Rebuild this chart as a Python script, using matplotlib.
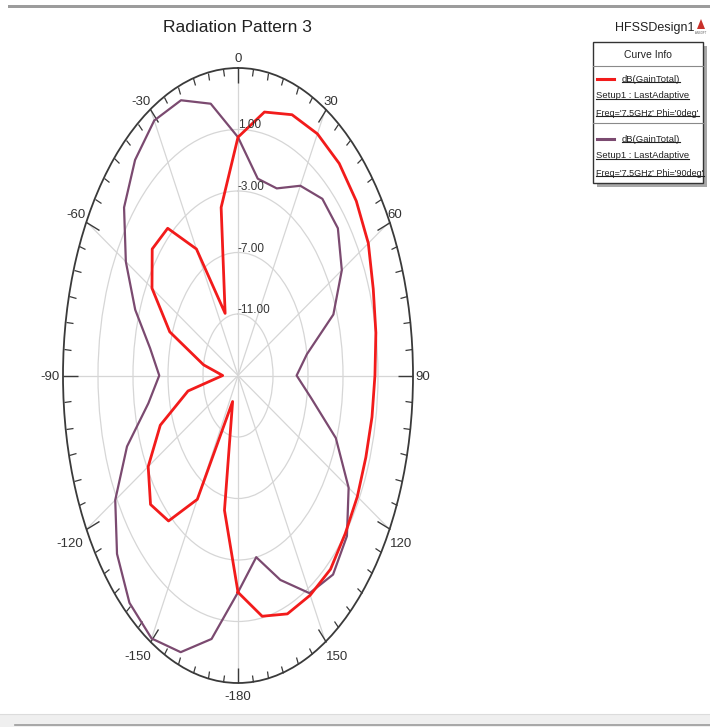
import numpy as np
import matplotlib
matplotlib.use('Agg')
import matplotlib.pyplot as plt
from matplotlib.lines import Line2D
from matplotlib.patches import Rectangle, Polygon
from matplotlib.transforms import offset_copy

plt.rcParams['font.family'] = ['Liberation Sans', 'DejaVu Sans']

# theta sweep (deg) and total gain (dB) for the two phi cuts at 7.5 GHz
theta_deg = [-180, -170, -160, -150, -140, -130, -120, -110, -100, -90,
             -80, -70, -60, -50, -40, -30, -20, -10, 0,
             10, 20, 30, 40, 50, 60, 70, 80, 90,
             100, 110, 120, 130, 140, 150, 160, 170, 180]
gain_phi0 = [-0.9, -6.1, -13.2, -5.7, -2.65, -1.95, -3.15, -5.55, -9.2, -13.25,
             -11.0, -6.7, -3.65, -2.2, -2.5, -5.5, -10.7, -3.9, 0.5,
             2.4, 3.05, 3.15, 3.0, 2.65, 2.2, 1.45, 1.0, 0.65,
             0.55, 0.55, 0.75, 1.0, 1.45, 1.5, 1.5, 0.9, -0.9]
gain_phi90 = [-0.9, 2.4, 4.15, 4.75, 4.3, 3.05, 1.2, -1.5, -4.6, -6.0,
              -4.8, -2.5, -0.2, 2.0, 3.3, 4.15, 4.05, 2.95, 0.5,
              -2.0, -2.05, -0.75, 0.0, -0.1, -1.3, -3.4, -7.0, -8.3,
              -6.5, -3.1, -0.4, 1.25, 1.9, 1.35, -0.85, -3.0, -0.9]

angle_ticks = [0, 30, 60, 90, 120, 150, 180, 210, 240, 270, 300, 330]
angle_labels = ['0', '30', '60', '90', '120', '150', '-180', '-150', '-120', '-90', '-60', '-30']
ring_levels = [-11, -7, -3, 1]
ring_labels = ['-11.00', '-7.00', '-3.00', '1.00']

curve_names = ["Freq='7.5GHz' Phi='0deg'", "Freq='7.5GHz' Phi='90deg'"]
red = '#f21b1b'
purple = '#7b4a70'

W, H = 710, 727
R_MIN, R_MAX = -15, 5


def fx(px):
    return px / W


def fy(py):
    return 1 - py / H


fig = plt.figure(figsize=(7.1, 7.27), dpi=100)

# window frame bits
fig.add_artist(Rectangle((fx(8), fy(8)), 1, 3 / H, transform=fig.transFigure,
                         fc='#9c9c9c', ec='none'))
fig.add_artist(Rectangle((0, 0), 1, 13 / H, transform=fig.transFigure,
                         fc='#efefef', ec='none'))
fig.add_artist(Line2D([0, 1], [fy(714), fy(714)], transform=fig.transFigure,
                      color='#dcdcdc', lw=0.8))
fig.add_artist(Line2D([fx(15), 1], [fy(725), fy(725)], transform=fig.transFigure,
                      color='#9a9a9a', lw=1.2))

# polar plot squeezed into an ellipse
ax = fig.add_axes([fx(63), fy(683), 350 / W, 615 / H], projection='polar')
ax.set_aspect('auto')
ax.set_theta_zero_location('N')
ax.set_theta_direction(-1)

th = np.deg2rad(theta_deg)
ax.plot(th, gain_phi90, color=purple, lw=1.6, zorder=3)
ax.plot(th, gain_phi0, color=red, lw=2.0, zorder=4)
ax.set_rlim(R_MIN, R_MAX)

# ticks on the outer rim only, labels placed by hand around the rim
ax.set_xticks(np.deg2rad(angle_ticks))
ax.set_xticks(np.deg2rad(np.arange(0, 360, 5)), minor=True)
ax.tick_params(axis='x', which='both', top=True, bottom=False, labelbottom=False)
ax.tick_params(axis='x', which='major', direction='in', length=11, width=1,
               color='#3a3a3a')
ax.tick_params(axis='x', which='minor', direction='in', length=5, width=0.9,
               color='#3a3a3a')

# (ha, va, dx, dy) in pixels, dy downwards
placement = [('center', 'bottom', 0, -3), ('left', 'bottom', -2, -1),
             ('left', 'bottom', -2, -1), ('left', 'center', 2, 1),
             ('left', 'top', 0, 9), ('left', 'top', 0, 9),
             ('center', 'top', 0, 8), ('right', 'top', 1, 9),
             ('right', 'top', -3, 9), ('right', 'center', -3, 1),
             ('right', 'bottom', -1, -1), ('right', 'bottom', 0, -1)]
for ang, lab, (ha, va, dx, dy) in zip(angle_ticks, angle_labels, placement):
    ax.annotate(lab, xy=(np.deg2rad(ang), R_MAX), xytext=(dx, -dy),
                textcoords='offset pixels', ha=ha, va=va, fontsize=9.5,
                color='#333333', annotation_clip=False)

ax.set_yticks(ring_levels)
ax.set_yticklabels([])
ax.grid(True, color='#d6d6d6', lw=0.9)
ax.spines['polar'].set_color('#3a3a3a')
ax.spines['polar'].set_linewidth(1.3)

lab_tr = offset_copy(ax.transData, fig=fig, x=0, y=4, units='dots')
for r, lab in zip(ring_levels, ring_labels):
    ax.text(0, r, lab, transform=lab_tr, ha='left', va='center',
            fontsize=8.5, color='#333333', zorder=5)

# headers
fig.text(fx(237), fy(28), 'Radiation Pattern 3', ha='center', va='center',
         fontsize=12.5, color='#222222')
fig.text(fx(655), fy(28), 'HFSSDesign1', ha='center', va='center',
         fontsize=9, color='#222222')
fig.add_artist(Polygon([[fx(701), fy(19)], [fx(697), fy(29)], [fx(705), fy(29)]],
                       closed=True, transform=fig.transFigure, fc='#c8302a', ec='none'))
fig.text(fx(701), fy(33), 'ANSOFT', ha='center', va='center', fontsize=2,
         color='#555555')

# curve info box
fig.add_artist(Rectangle((fx(597), fy(187)), 110 / W, 141 / H, transform=fig.transFigure,
                         fc='#a8a8a8', ec='none'))
fig.add_artist(Rectangle((fx(593), fy(183)), 110 / W, 141 / H, transform=fig.transFigure,
                         fc='white', ec='#333333', lw=1))
fig.text(fx(648), fy(55), 'Curve Info', ha='center', va='center', fontsize=7.5,
         color='#222222')
for ysep in (66, 123):
    fig.add_artist(Line2D([fx(593), fx(703)], [fy(ysep), fy(ysep)],
                          transform=fig.transFigure, color='#8a8a8a', lw=0.8))

under = []
for i, (col, name) in enumerate(zip([red, purple], curve_names)):
    y0 = 79 + 60 * i
    fig.add_artist(Line2D([fx(597), fx(614)], [fy(y0), fy(y0)],
                          transform=fig.transFigure, color=col, lw=2.2))
    under.append(fig.text(fx(622), fy(y0), 'dB(GainTotal)', ha='left', va='center',
                          fontsize=6.8, color='#222222'))
    under.append(fig.text(fx(596), fy(y0 + 17), 'Setup1 : LastAdaptive', ha='left',
                          va='center', fontsize=6.8, color='#222222'))
    under.append(fig.text(fx(596), fy(y0 + 34), name, ha='left', va='center',
                          fontsize=6.5, color='#222222'))

# underline the legend entries
fig.canvas.draw()
inv = fig.transFigure.inverted()
for t in under:
    bb = t.get_window_extent().transformed(inv)
    yline = bb.y0 + 1.5 / H
    fig.add_artist(Line2D([bb.x0, bb.x1], [yline, yline], transform=fig.transFigure,
                          color='#222222', lw=0.8))

fig.savefig('out.png', dpi=100)
